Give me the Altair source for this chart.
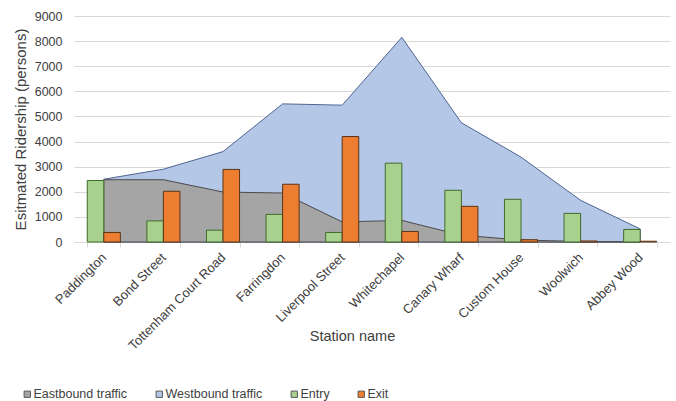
import altair as alt
import pandas as pd

stations = ["Paddington", "Bond Street", "Tottenham Court Road", "Farringdon",
            "Liverpool Street", "Whitechapel", "Canary Wharf", "Custom House",
            "Woolwich", "Abbey Wood"]
westbound = [2500, 2900, 3600, 5500, 5450, 8150, 4750, 3380, 1660, 520]
eastbound = [2480, 2480, 1990, 1950, 800, 860, 270, 80, 20, 0]
entry = [2450, 840, 470, 1100, 380, 3140, 2060, 1700, 1140, 500]
exit_ = [380, 2020, 2890, 2300, 4200, 420, 1420, 90, 40, 30]

series_names = ["Eastbound traffic", "Westbound traffic", "Entry", "Exit"]
fills = ["#a5a5a5", "#b4c7e7", "#a9d18e", "#ed7d31"]

west_df = pd.DataFrame({"station": stations, "value": westbound, "series": "Westbound traffic"})
east_df = pd.DataFrame({"station": stations, "value": eastbound, "series": "Eastbound traffic"})
bars_df = pd.concat([
    pd.DataFrame({"station": stations, "value": entry, "series": "Entry"}),
    pd.DataFrame({"station": stations, "value": exit_, "series": "Exit"}),
])

FONT = "Liberation Sans"

xscale = alt.Scale(domain=stations, paddingInner=0.445, paddingOuter=0.2225)
fill_scale = alt.Scale(domain=series_names, range=fills)

x_enc = alt.X("station:N", sort=stations, scale=xscale,
              axis=alt.Axis(title="Station name", labelAngle=-45, labelAlign="right",
                            labelBaseline="middle", labelPadding=8, labelFontSize=13,
                            labelColor="#404040", labelFont=FONT, labelLimit=300,
                            domainColor="#d9d9d9", tickColor="#d9d9d9", tickSize=5,
                            tickBand="extent", titleFont=FONT, titleFontSize=14.5,
                            titleFontWeight="normal", titleColor="#404040",
                            titleX=278, titleY=94, titleBaseline="middle",
                            titleAnchor="middle", titleAlign="center"))
y_enc = alt.Y("value:Q", stack=None,
              scale=alt.Scale(domain=[0, 9000], nice=False),
              axis=alt.Axis(title="Esitmated Ridership (persons)", values=list(range(0, 9001, 1000)),
                            format="d", labelFontSize=12.5, labelColor="#404040", labelFont=FONT,
                            labelPadding=12, domain=False, ticks=False,
                            gridColor="#d9d9d9", titleFont=FONT, titleFontSize=15,
                            titleFontWeight="normal", titleColor="#404040", titlePadding=6))

legend = alt.Legend(title=None, orient="none", direction="horizontal", legendX=-53, legendY=372,
                    symbolType="square", symbolSize=40, symbolStrokeColor="#595959",
                    symbolStrokeWidth=1, labelFont=FONT, labelFontSize=12.5,
                    labelColor="#404040", columnPadding=25, labelOffset=0,
                    gridAlign="none", padding=0, values=series_names)

fill_enc = alt.Fill("series:N", scale=fill_scale, legend=legend)

west = alt.Chart(west_df).mark_area(stroke="#4e6590", strokeWidth=1, interpolate="linear").encode(
    x=x_enc, y=y_enc, fill=fill_enc)
east = alt.Chart(east_df).mark_area(stroke="#4a4a4a", strokeWidth=1, interpolate="linear").encode(
    x=x_enc, y=y_enc, fill=fill_enc)
bars = alt.Chart(bars_df).mark_bar(strokeWidth=1).encode(
    x=x_enc, y=y_enc, fill=fill_enc,
    xOffset=alt.XOffset("series:N", sort=["Entry", "Exit"], scale=alt.Scale(paddingInner=0, paddingOuter=0)),
    stroke=alt.Stroke("series:N", scale=alt.Scale(domain=["Entry", "Exit"], range=["#3f6b2a", "#5a3418"]), legend=None),
)

chart = alt.layer(west, east, bars).properties(
    width=596, height=226,
    autosize=alt.AutoSizeParams(type="none"),
    padding={"left": 74, "top": 16, "right": 6, "bottom": 159},
    background="white",
).configure_view(stroke=None)

chart.save("out.html", embed_options={"renderer": "svg", "actions": False})
